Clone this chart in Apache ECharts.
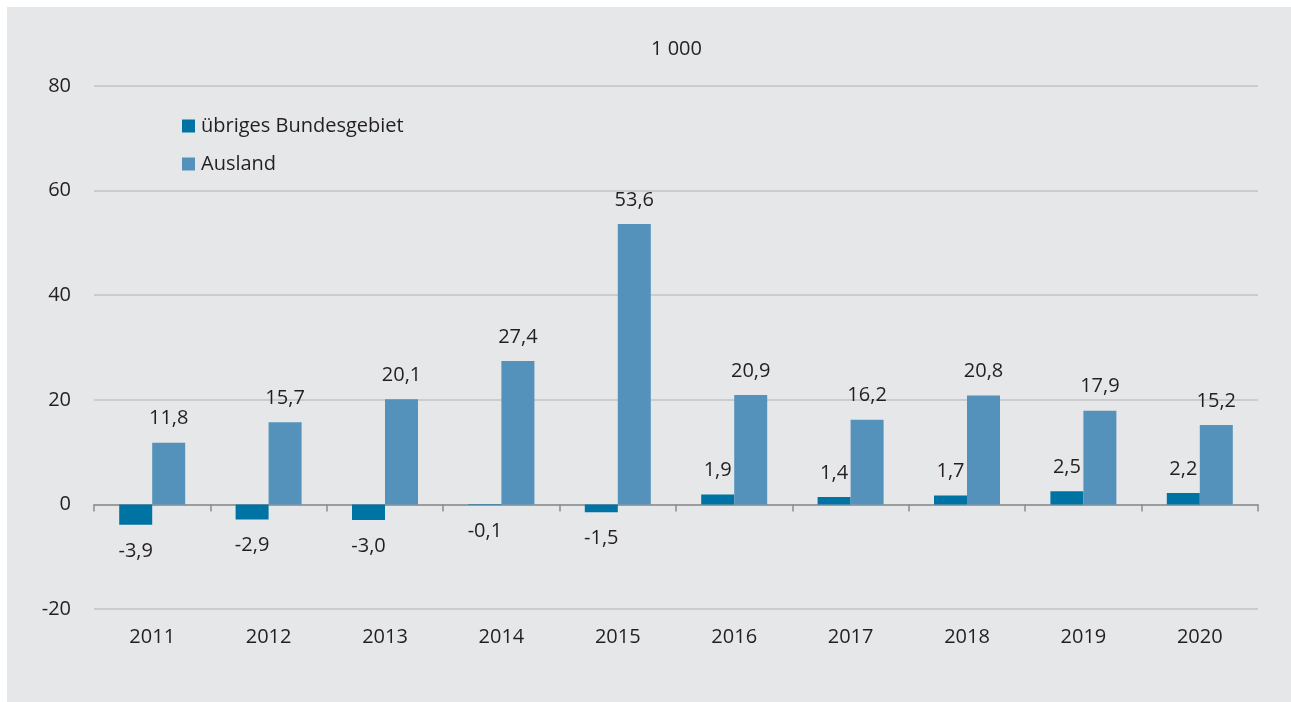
<!DOCTYPE html>
<html>
<head>
<meta charset="utf-8">
<script src="https://cdn.jsdelivr.net/npm/echarts@6/dist/echarts.min.js"></script>
<style type="text/css">
html, body {
	margin: 0;
	padding: 0;
	background: #ffffff;
}
#chart {
	position: absolute;
	left: 7px;
	top: 7px;
	width: 1284px;
	height: 695px;
}
</style>
</head>
<body>
<div id="chart"></div>
<script type="text/javascript">
    // Daten
    var years = ['2011', '2012', '2013', '2014', '2015', '2016', '2017', '2018', '2019', '2020'];
    var bundesgebiet = [-3.9, -2.9, -3.0, -0.1, -1.5, 1.9, 1.4, 1.7, 2.5, 2.2];
    var ausland = [11.8, 15.7, 20.1, 27.4, 53.6, 20.9, 16.2, 20.8, 17.9, 15.2];
    var yTicks = [-20, 0, 20, 40, 60, 80];

    var textColor = '#231f20';
    var fontName = '"Open Sans", "Noto Sans", sans-serif';

    // negative Werte bekommen das Label unter dem Balken
    function buildData(list) {
        var arr = [];
        for (var x in list) {
            var item = {};
            item.value = list[x];
            if (list[x] < 0) {
                item.label = { position: 'bottom', distance: 16 };
            } else {
                item.label = { position: 'top', distance: 14 };
            }
            arr.push(item);
        }
        return arr;
    }

    function fmt(p) {
        return p.value.toFixed(1).replace('.', ',');
    }

    var myChart = echarts.init(document.getElementById('chart'));

    var labelStyle = {
        show: true,
        fontSize: 20,
        color: textColor,
        fontFamily: fontName,
        formatter: fmt
    };

    myChart.setOption({
        backgroundColor: '#e6e7e9',
        animation: false,
        title: {
            text: '1 000',
            left: 639,
            top: 27,
            textStyle: {
                fontSize: 20,
                fontWeight: 'normal',
                color: textColor,
                fontFamily: fontName
            }
        },
        legend: {
            orient: 'vertical',
            left: 170,
            top: 104,
            itemWidth: 13,
            itemHeight: 13,
            itemGap: 18,
            icon: 'rect',
            textStyle: {
                fontSize: 20,
                color: textColor,
                fontFamily: fontName,
                padding: [0, 0, 0, 1]
            },
            data: ['übriges Bundesgebiet', 'Ausland']
        },
        grid: {
            left: 87,
            right: 33,
            top: 79,
            bottom: 93,
            containLabel: false
        },
        xAxis: [
            {
                type: 'category',
                data: years,
                position: 'bottom',
                axisLine: { show: false, onZero: false },
                axisTick: { show: false },
                axisLabel: {
                    margin: 18,
                    fontSize: 20,
                    color: textColor,
                    fontFamily: fontName
                }
            },
            {
                type: 'category',
                data: years,
                position: 'bottom',
                axisLine: { show: true, onZero: true, lineStyle: { color: '#8c8c8c', width: 1.5 } },
                axisTick: { show: true, length: 7, lineStyle: { color: '#8c8c8c', width: 1.5 } },
                axisLabel: { show: false }
            }
        ],
        yAxis: {
            type: 'value',
            min: yTicks[0],
            max: yTicks[yTicks.length - 1],
            interval: 20,
            axisLine: { show: false },
            axisTick: { show: false },
            axisLabel: {
                margin: 23,
                fontSize: 20,
                color: textColor,
                fontFamily: fontName
            },
            splitLine: { lineStyle: { color: '#c2c3c5', width: 1.5 } }
        },
        series: [
            {
                name: 'übriges Bundesgebiet',
                type: 'bar',
                xAxisIndex: 0,
                data: buildData(bundesgebiet),
                barWidth: 33,
                barGap: '0%',
                itemStyle: { color: '#0073a5' },
                label: labelStyle
            },
            {
                name: 'Ausland',
                type: 'bar',
                xAxisIndex: 0,
                data: buildData(ausland),
                barWidth: 33,
                barGap: '0%',
                itemStyle: { color: '#5592bb' },
                label: labelStyle
            }
        ]
    });
</script>
</body>
</html>
